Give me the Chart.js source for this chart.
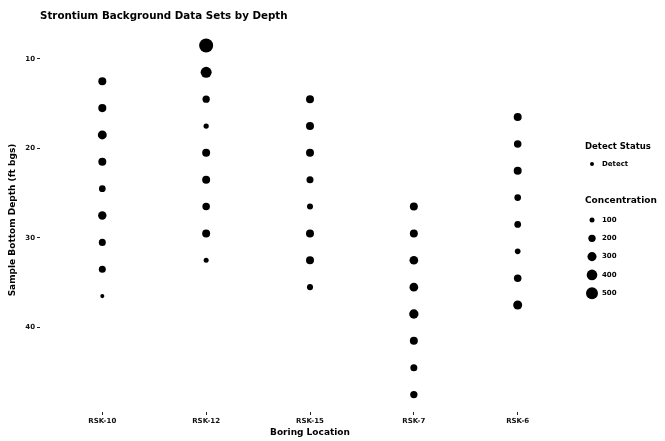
<!DOCTYPE html>
<html lang="en">
<head>
<meta charset="UTF-8">
<title>Strontium Background Data Sets by Depth</title>
<style>
  body { margin: 0; padding: 0; background: #fff; }
  .container { width: 665px; height: 441px; position: relative; }
</style>
</head>
<body>
<div class="container"><canvas id="graficoEstroncio" width="665" height="441"></canvas></div>
<script src="https://cdn.jsdelivr.net/npm/chart.js"></script>
<script>
  // categories and tick labels
  const borings = ['RSK-10', 'RSK-12', 'RSK-15', 'RSK-7', 'RSK-6'];
  const depthTicks = [10, 20, 30, 40];
  const concBreaks = [100, 200, 300, 400, 500];

  // sample bottom depth (ft bgs) and concentration per boring
  const depthRSK10 = [12.5, 15.5, 18.5, 21.5, 24.5, 27.5, 30.5, 33.5, 36.5];
  const concRSK10  = [235, 240, 290, 235, 170, 260, 185, 185, 70];
  const depthRSK12 = [8.5, 11.5, 14.5, 17.5, 20.5, 23.5, 26.5, 29.5, 32.5];
  const concRSK12  = [680, 430, 200, 110, 235, 235, 210, 235, 100];
  const depthRSK15 = [14.5, 17.5, 20.5, 23.5, 26.5, 29.5, 32.5, 35.5];
  const concRSK15  = [235, 235, 235, 185, 140, 235, 235, 140];
  const depthRSK7  = [26.5, 29.5, 32.5, 35.5, 38.5, 41.5, 44.5, 47.5];
  const concRSK7   = [235, 235, 275, 275, 315, 235, 185, 200];
  const depthRSK6  = [16.5, 19.5, 22.5, 25.5, 28.5, 31.5, 34.5, 37.5];
  const concRSK6   = [235, 210, 235, 170, 170, 125, 210, 295];

  const depths = [depthRSK10, depthRSK12, depthRSK15, depthRSK7, depthRSK6];
  const concs = [concRSK10, concRSK12, concRSK15, concRSK7, concRSK6];

  const fontFam = '"DejaVu Sans", Arial, sans-serif';

  // area-style size scale
  function raio(c) {
    return Math.max(1.5, 0.28 * Math.sqrt(c) - 0.3);
  }

  const datasets = borings.map((b, i) => ({
    label: b,
    data: depths[i].map(d => ({ x: i + 1, y: d })),
    pointRadius: concs[i].map(raio),
    pointBackgroundColor: '#000',
    pointBorderWidth: 0,
    showLine: false
  }));

  const tituloPlugin = {
    id: 'tituloELegenda',
    afterDraw(chart) {
      const ctx = chart.ctx;
      const area = chart.chartArea;
      ctx.save();
      ctx.fillStyle = '#000';
      ctx.textBaseline = 'middle';
      ctx.textAlign = 'left';
      ctx.font = 'bold 10.3px ' + fontFam;
      ctx.fillText('Strontium Background Data Sets by Depth', area.left, 16);

      const lx = 585;
      ctx.font = 'bold 8.5px ' + fontFam;
      ctx.fillText('Detect Status', lx, 147);
      ctx.beginPath();
      ctx.arc(lx + 7, 164, 2, 0, Math.PI * 2);
      ctx.fill();
      ctx.font = 'bold 7px ' + fontFam;
      ctx.fillText('Detect', lx + 17, 164);

      ctx.font = 'bold 9px ' + fontFam;
      ctx.fillText('Concentration', lx, 201);
      concBreaks.forEach((c, k) => {
        const y = 220 + k * 18.3;
        ctx.beginPath();
        ctx.arc(lx + 7, y, raio(c), 0, Math.PI * 2);
        ctx.fill();
        ctx.font = 'bold 7px ' + fontFam;
        ctx.fillText(String(c), lx + 17, y);
      });
      ctx.restore();
    }
  };

  new Chart(document.getElementById('graficoEstroncio'), {
    type: 'scatter',
    data: { datasets: datasets },
    plugins: [tituloPlugin],
    options: {
      responsive: false,
      animation: false,
      events: [],
      layout: { padding: { top: 28, right: 85, bottom: 0, left: 0 } },
      plugins: {
        legend: { display: false },
        title: { display: false },
        tooltip: { enabled: false }
      },
      scales: {
        x: {
          type: 'linear',
          min: 0.4,
          max: 5.6,
          afterBuildTicks: s => { s.ticks = borings.map((b, i) => ({ value: i + 1 })); },
          afterFit: s => { s.height = 29; },
          ticks: {
            autoSkip: false,
            maxRotation: 0,
            padding: 2,
            color: '#111',
            font: { family: fontFam, size: 7, weight: 'bold' },
            callback: (v, i) => borings[i]
          },
          grid: { drawOnChartArea: false, drawTicks: true, tickLength: 3, color: '#222' },
          border: { display: false },
          title: {
            display: true,
            text: 'Boring Location',
            color: '#000',
            font: { family: fontFam, size: 9, weight: 'bold' },
            padding: { top: 0, bottom: 3 }
          }
        },
        y: {
          type: 'linear',
          reverse: true,
          min: 6.55,
          max: 49.45,
          afterBuildTicks: s => { s.ticks = depthTicks.map(v => ({ value: v })); },
          afterFit: s => { s.width = 40; },
          ticks: {
            padding: 2,
            color: '#111',
            font: { family: fontFam, size: 7, weight: 'bold' }
          },
          grid: { drawOnChartArea: false, drawTicks: true, tickLength: 3, color: '#222' },
          border: { display: false },
          title: {
            display: true,
            text: 'Sample Bottom Depth (ft bgs)',
            color: '#000',
            font: { family: fontFam, size: 9, weight: 'bold' },
            padding: { top: 7, bottom: 0 }
          }
        }
      }
    }
  });
</script>
</body>
</html>
